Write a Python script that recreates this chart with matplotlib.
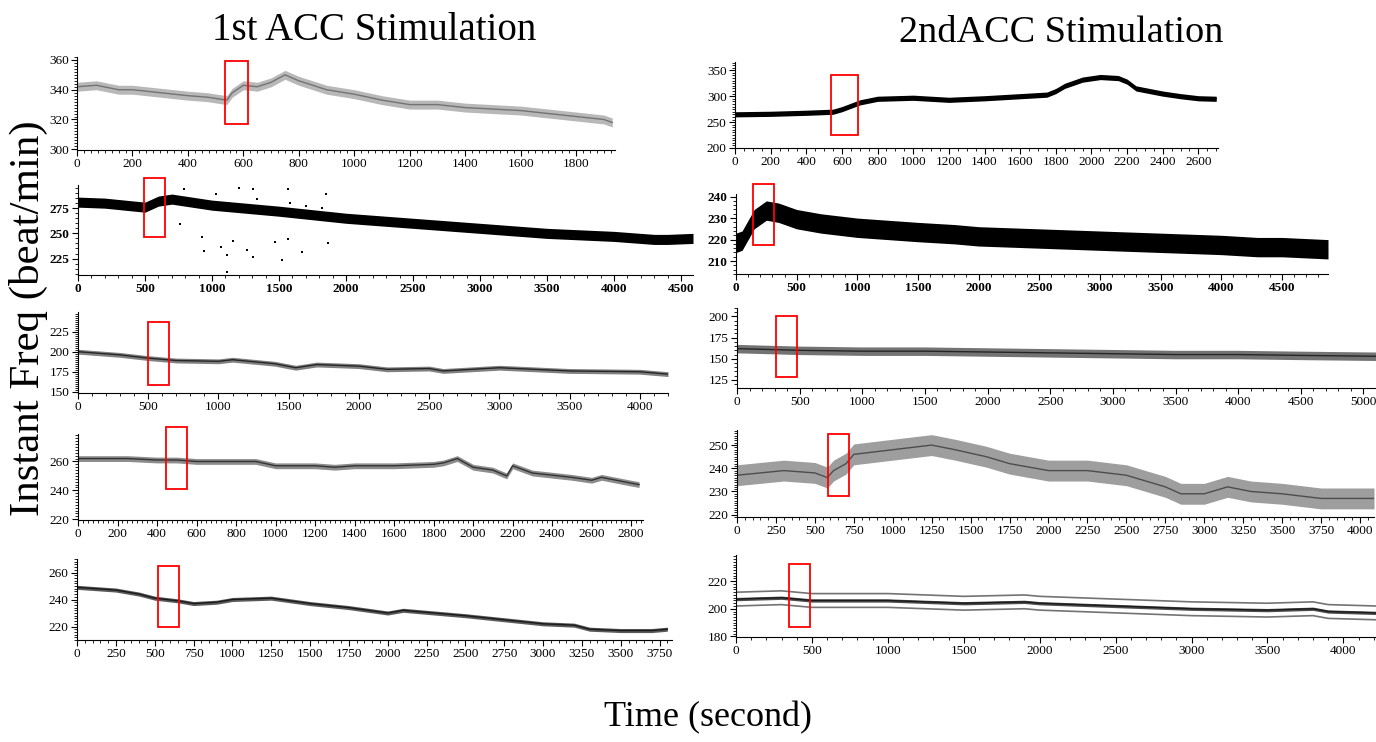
import numpy as np
import matplotlib.pyplot as plt
from matplotlib.ticker import MultipleLocator
from matplotlib.patches import Rectangle

plt.rcParams['font.family'] = ['Liberation Serif', 'DejaVu Serif']

# ---- left column, 1st ACC stimulation ----
t_l1 = [0, 70, 150, 200, 300, 400, 470, 540, 560, 600, 650, 700, 750, 800, 900, 1000, 1100, 1200,
        1300, 1400, 1500, 1600, 1700, 1800, 1900, 1930]
v_l1 = [342, 343, 340, 340, 338, 336, 335, 333, 338, 343, 342, 345, 350, 346, 340, 337, 333, 330,
        330, 328, 327, 326, 324, 322, 320, 318]

t_l2 = [0, 200, 500, 600, 700, 1000, 1500, 2000, 2500, 3000, 3500, 4000, 4300, 4400, 4590]
v_l2 = [281, 280, 276, 282, 284, 278, 272, 265, 260, 255, 250, 247, 244, 244, 245]
# scattered outliers of the 2nd left trace
out_t_l2 = [927, 942, 1064, 1109, 1155, 1261, 1307, 1474, 1520, 1565, 1672, 1869, 1854,
            1200, 1307, 1565, 1109, 760, 1702, 1580, 1337, 1033, 790, 1820, 1880]
out_v_l2 = [246.6, 232.3, 236.4, 228.9, 242.5, 233.7, 226.9, 241.5, 223.8, 244.9, 232,
            240.5, 289, 294.9, 294.2, 294.2, 212, 259.7, 277, 280, 284, 289, 294, 275, 270]

t_l3 = [0, 300, 500, 700, 1000, 1100, 1400, 1550, 1700, 2000, 2200, 2500, 2600, 3000, 3500, 4000, 4200]
v_l3 = [200, 196, 192, 189, 188, 190, 185, 180, 184, 182, 178, 179, 176, 180, 176, 175, 172]

t_l4 = [0, 250, 400, 500, 600, 900, 1000, 1200, 1300, 1400, 1600, 1800, 1850, 1920, 2000,
        2100, 2170, 2200, 2300, 2500, 2600, 2650, 2800, 2840]
v_l4 = [262, 262, 261, 261, 260, 260, 257, 257, 256, 257, 257, 258, 259, 262, 256,
        254, 250, 257, 252, 249, 247, 249, 245, 244]

t_l5 = [0, 250, 400, 500, 650, 750, 900, 1000, 1250, 1500, 1750, 2000, 2100, 2500, 2750,
        3000, 3200, 3300, 3500, 3700, 3800]
v_l5 = [249, 247, 244, 241, 239, 237, 238, 240, 241, 237, 234, 230, 232, 228, 225,
        222, 221, 218, 217, 217, 218]

# ---- right column, 2nd ACC stimulation ----
t_r1 = [0, 200, 400, 550, 600, 700, 800, 1000, 1200, 1400, 1600, 1750, 1800, 1850, 1950,
        2050, 2150, 2200, 2250, 2400, 2500, 2600, 2700]
v_r1 = [265, 266, 268, 270, 275, 288, 295, 297, 293, 296, 300, 303, 310, 320, 332,
        337, 335, 328, 315, 305, 300, 296, 295]

t_r2 = [0, 50, 100, 150, 250, 350, 500, 700, 1000, 1500, 1800, 2000, 2500, 3000, 3500,
        4000, 4300, 4500, 4880]
v_r2 = [219, 220, 225, 230, 234, 233, 230, 228, 226, 224, 223, 222, 221, 220, 219,
        218, 217, 217, 216]

t_r3 = [0, 500, 1000, 1500, 2000, 2500, 3000, 3500, 4000, 4500, 5100]
v_r3 = [162, 160, 159, 159, 158, 157, 156, 155, 155, 154, 153]

t_r4 = [0, 150, 300, 500, 580, 620, 700, 750, 1000, 1250, 1400, 1600, 1750, 2000, 2250,
        2500, 2750, 2850, 3000, 3150, 3300, 3500, 3750, 4090]
v_r4 = [237, 238, 239, 238, 236, 239, 242, 246, 248, 250, 248, 245, 242, 239, 239,
        237, 232, 229, 229, 232, 230, 229, 227, 227]

t_r5 = [0, 300, 500, 1000, 1500, 1900, 2000, 2500, 3000, 3500, 3800, 3900, 4215]
v_r5 = [207, 208, 206, 206, 204, 205, 204, 202, 200, 199, 200, 198, 197]

# spread of each trace below / above its centre (beat/min)
spread_lo = {'l1': 3, 'l2': 5, 'l3': 3, 'l4': 2, 'l5': 1.5,
             'r1': 5, 'r2': 5, 'r3': 5, 'r4': 4.5, 'r5': 1.2}
spread_hi = {'l1': 3, 'l2': 5, 'l3': 3, 'l4': 2, 'l5': 1.5,
             'r1': 5, 'r2': 4, 'r3': 5, 'r4': 4.5, 'r5': 1.2}

# stimulation boxes: (t0, t1, v0, v1)
boxes = {'l1': (535, 615, 317, 359), 'l2': (490, 650, 246, 305), 'l3': (500, 650, 159, 237),
         'l4': (445, 550, 240.7, 284), 'l5': (520, 657, 219.5, 265),
         'r1': (540, 690, 225, 340), 'r2': (143, 311, 217.7, 246), 'r3': (310, 475, 129, 200),
         'r4': (585, 720, 228, 254.6), 'r5': (350, 490, 186.7, 232.3)}

W, H = 1376, 742
fig = plt.figure(figsize=(13.76, 7.42), dpi=100)


def add_ax(left, right, top, bottom):
    return fig.add_axes([left / W, 1 - bottom / H, (right - left) / W, (bottom - top) / H])


def panel(ax, key, t, v, xlim, ylim, xmaj, xmin, ymaj, ymin, fill, line, bold=False):
    t = np.array(t)
    v = np.array(v, dtype=float)
    ax.fill_between(t, v - spread_lo[key], v + spread_hi[key], color=fill, lw=0)
    ax.plot(t, v, color=line, lw=1.0)
    b = boxes[key]
    ax.add_patch(Rectangle((b[0], b[2]), b[1] - b[0], b[3] - b[2], fill=False,
                           ec='red', lw=1.3, clip_on=False, zorder=5))
    ax.set_xlim(xlim)
    ax.set_ylim(ylim)
    ax.xaxis.set_major_locator(MultipleLocator(xmaj))
    ax.xaxis.set_minor_locator(MultipleLocator(xmin))
    ax.yaxis.set_major_locator(MultipleLocator(ymaj))
    ax.yaxis.set_minor_locator(MultipleLocator(ymin))
    for s in ['top', 'right']:
        ax.spines[s].set_visible(False)
    for s in ['left', 'bottom']:
        ax.spines[s].set_linewidth(0.8)
    ax.tick_params(which='major', length=4, width=0.8, labelsize=9.5, pad=2)
    ax.tick_params(which='minor', length=2.5, width=0.6)
    if bold:
        for lab in ax.get_xticklabels() + ax.get_yticklabels():
            lab.set_fontweight('bold')


ax = add_ax(77, 615, 57, 150)
panel(ax, 'l1', t_l1, v_l1, (0, 1940), (299.5, 362), 200, 25, 20, 2, '0.72', '0.45')

ax = add_ax(78, 693, 185, 275)
panel(ax, 'l2', t_l2, v_l2, (0, 4590), (208.7, 298), 500, 100, 25, 5, 'black', 'black', bold=True)
ax.scatter(out_t_l2, out_v_l2, s=4, c='black', marker='s', lw=0)

ax = add_ax(78, 668, 312, 393)
panel(ax, 'l3', t_l3, v_l3, (0, 4200), (148.5, 249.5), 500, 100, 25, 2.5, '0.5', '0.15')

ax = add_ax(78, 643, 434, 520)
panel(ax, 'l4', t_l4, v_l4, (0, 2860), (219.5, 279), 200, 25, 20, 2, '0.55', '0.2')

ax = add_ax(77, 672, 559, 640)
panel(ax, 'l5', t_l5, v_l5, (0, 3830), (210, 270), 250, 50, 20, 2, '0.35', '0.1')

ax = add_ax(735, 1218, 62, 148)
panel(ax, 'r1', t_r1, v_r1, (0, 2710), (200, 366), 200, 50, 50, 5, 'black', 'black')

ax = add_ax(736, 1328, 194, 274)
panel(ax, 'r2', t_r2, v_r2, (0, 4880), (204, 241.2), 500, 100, 10, 2, 'black', 'black', bold=True)

ax = add_ax(737, 1376, 308, 388)
panel(ax, 'r3', t_r3, v_r3, (0, 5100), (115.5, 210), 500, 100, 25, 5, '0.45', '0.15')

ax = add_ax(737, 1374, 430, 517)
panel(ax, 'r4', t_r4, v_r4, (0, 4090), (219, 256.5), 250, 50, 10, 1, '0.62', '0.3')

ax = add_ax(736, 1376, 555, 637)
panel(ax, 'r5', t_r5, v_r5, (0, 4215), (179.5, 239), 500, 100, 20, 2, '0.3', '0.1')
# upper and lower envelope lines of the last trace
ax.plot(t_r5, np.array(v_r5) + 5, color='0.45', lw=1.2)
ax.plot(t_r5, np.array(v_r5) - 5, color='0.45', lw=1.2)

fig.text(374 / W, 1 - 30 / H, '1st ACC Stimulation', ha='center', va='center', fontsize=28)
fig.text(1061 / W, 1 - 33 / H, '2ndACC Stimulation', ha='center', va='center', fontsize=27.5)
fig.text(28 / W, 1 - 318 / H, 'Instant Freq (beat/min)', ha='center', va='center',
         rotation=90, fontsize=31)
fig.text(708 / W, 1 - 718 / H, 'Time (second)', ha='center', va='center', fontsize=26)

fig.savefig('out.png', dpi=100, facecolor='white')
